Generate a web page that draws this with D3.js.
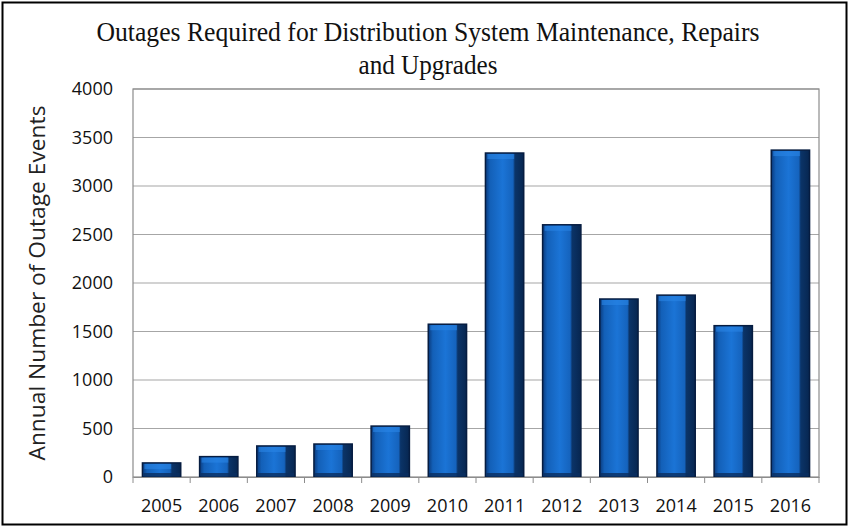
<!DOCTYPE html>
<html>
<head>
<meta charset="utf-8">
<script src="https://cdn.jsdelivr.net/npm/d3@7"></script>
<style>
  body { margin: 0; background: #fff; }
</style>
</head>
<body>
<div id="chart"></div>
<script>
const years = ["2005", "2006", "2007", "2008", "2009", "2010", "2011", "2012", "2013", "2014", "2015", "2016"];
const outages = [145, 210, 320, 340, 525, 1575, 3340, 2600, 1835, 1875, 1560, 3370];
const yTicks = [0, 500, 1000, 1500, 2000, 2500, 3000, 3500, 4000];

const width = 849, height = 527;
const margin = { top: 89, right: 30, bottom: 50, left: 133 };
const innerW = width - margin.left - margin.right;
const innerH = height - margin.top - margin.bottom;

const svg = d3.select("#chart").append("svg")
  .attr("width", width)
  .attr("height", height);

// outer frame
svg.append("rect")
  .attr("x", 2.5).attr("y", 2.5)
  .attr("width", width - 5).attr("height", height - 5)
  .attr("fill", "#fff").attr("stroke", "#000").attr("stroke-width", 2);

const defs = svg.append("defs");
const grad = defs.append("linearGradient").attr("id", "barGrad")
  .attr("x1", "0%").attr("x2", "100%").attr("y1", "0%").attr("y2", "0%");
grad.append("stop").attr("offset", "0%").attr("stop-color", "#0a3a7c");
grad.append("stop").attr("offset", "12%").attr("stop-color", "#1360b8");
grad.append("stop").attr("offset", "45%").attr("stop-color", "#1b74d6");
grad.append("stop").attr("offset", "72%").attr("stop-color", "#1563bd");
grad.append("stop").attr("offset", "77%").attr("stop-color", "#0b3468");
grad.append("stop").attr("offset", "100%").attr("stop-color", "#072650");

// title
const title = svg.append("text")
  .attr("text-anchor", "middle")
  .attr("font-family", "Liberation Serif, Times New Roman, serif")
  .attr("font-size", 27)
  .attr("fill", "#111");
title.append("tspan").attr("x", 428).attr("y", 41)
  .attr("textLength", 663).attr("lengthAdjust", "spacingAndGlyphs")
  .text("Outages Required for Distribution System Maintenance, Repairs");
title.append("tspan").attr("x", 428).attr("y", 74)
  .attr("textLength", 139).attr("lengthAdjust", "spacingAndGlyphs")
  .text("and Upgrades");

const g = svg.append("g")
  .attr("transform", `translate(${margin.left},${margin.top})`);

const x = d3.scaleBand().domain(years).range([0, innerW]).paddingInner(0.33).paddingOuter(0.165);
const y = d3.scaleLinear().domain([0, 4000]).range([innerH, 0]);

// gridlines
g.selectAll(".grid")
  .data(yTicks.slice(1))
  .enter().append("line")
  .attr("class", "grid")
  .attr("x1", 0).attr("x2", innerW)
  .attr("y1", d => y(d)).attr("y2", d => y(d))
  .attr("stroke", "#a6a6a6").attr("stroke-width", 1.2);

// plot frame
g.append("rect")
  .attr("x", 0).attr("y", 0)
  .attr("width", innerW).attr("height", innerH)
  .attr("fill", "none").attr("stroke", "#8c8c8c").attr("stroke-width", 1.2);

// bars
const bars = g.selectAll(".bar")
  .data(years.map((yr, i) => ({ year: yr, value: outages[i] })))
  .enter().append("g").attr("class", "bar");

bars.append("rect")
  .attr("x", d => x(d.year))
  .attr("y", d => y(d.value))
  .attr("width", x.bandwidth())
  .attr("height", d => innerH - y(d.value))
  .attr("fill", "url(#barGrad)")
  .attr("stroke", "#061c40").attr("stroke-width", 1.5);

// top bevel
bars.append("rect")
  .attr("x", d => x(d.year) + 2)
  .attr("y", d => y(d.value) + 1)
  .attr("width", x.bandwidth() * 0.75 - 2)
  .attr("height", d => Math.min(5, innerH - y(d.value) - 2))
  .attr("fill", "#2a86e6").attr("opacity", 0.6);

// bottom bevel
bars.append("rect")
  .attr("x", d => x(d.year) + 1)
  .attr("y", innerH - 4)
  .attr("width", x.bandwidth() - 2)
  .attr("height", 3.5)
  .attr("fill", "#0a2e60").attr("opacity", 0.8);

// x axis
const xAxis = d3.axisBottom(x).tickSize(0).tickPadding(22);
const xg = g.append("g")
  .attr("transform", `translate(0,${innerH})`)
  .call(xAxis);
xg.select(".domain").attr("stroke", "#8c8c8c");
xg.selectAll("text")
  .attr("font-family", "Open Sans, Liberation Sans, sans-serif")
  .attr("font-size", 18).attr("fill", "#111");

// boundary tick marks
g.selectAll(".xtick")
  .data(d3.range(years.length + 1))
  .enter().append("line")
  .attr("class", "xtick")
  .attr("x1", i => i * x.step()).attr("x2", i => i * x.step())
  .attr("y1", innerH).attr("y2", innerH + 6)
  .attr("stroke", "#8c8c8c");

// y axis
const yAxis = d3.axisLeft(y).tickValues(yTicks).tickSize(0).tickPadding(20).tickFormat(d3.format("d"));
const yg = g.append("g").call(yAxis);
yg.select(".domain").remove();
yg.selectAll("text")
  .attr("font-family", "Open Sans, Liberation Sans, sans-serif")
  .attr("font-size", 18).attr("fill", "#111");

// y axis label
svg.append("text")
  .attr("transform", `translate(45,283) rotate(-90)`)
  .attr("text-anchor", "middle")
  .attr("font-family", "Open Sans, Liberation Sans, sans-serif")
  .attr("font-size", 21).attr("fill", "#222")
  .attr("textLength", 355).attr("lengthAdjust", "spacingAndGlyphs")
  .text("Annual Number of Outage Events");
</script>
</body>
</html>
